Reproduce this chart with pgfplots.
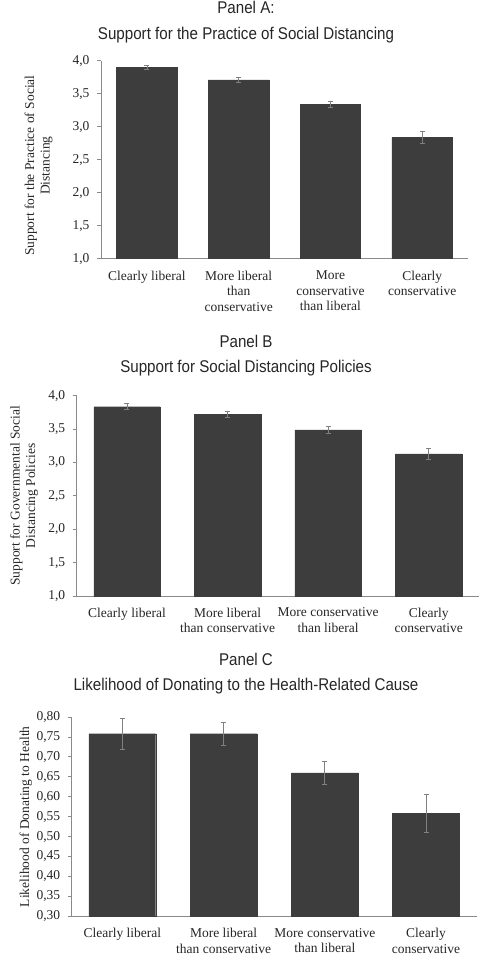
\documentclass[border=0pt]{standalone}
\usepackage{fontspec}
\setmainfont{Liberation Serif}
\newfontfamily\titlefont{Liberation Sans}[FakeStretch=0.89]
\usepackage{pgfplots}
\pgfplotsset{compat=1.18}
\definecolor{barc}{HTML}{3D3D3D}
\definecolor{axc}{HTML}{8A8A8A}
\definecolor{errc}{HTML}{808080}
\definecolor{txt}{HTML}{262626}
\newcommand\tfont{\fontsize{13.5}{15.5}\selectfont}
\pgfplotsset{
  panel/.style={
    scale only axis,
    axis lines*=left,
    axis line style={axc, line width=0.8pt},
    ybar, bar width=0.66,
    xmin=-0.5, xmax=3.5,
    xtick={0,1,2,3},
    x tick style={draw=none},
    y tick style={axc, line width=0.8pt},
    tick align=outside, major tick length=4pt,
    xticklabel style={align=center, font=\tfont, text=txt, yshift=-4.5pt},
    yticklabel style={font=\tfont, text=txt, xshift=-4pt},
    ylabel style={anchor=center, align=center, font=\tfont, text=txt},
    /pgf/number format/assume math mode=true,
    /pgf/number format/use comma,
    /pgf/number format/fixed,
    /pgf/number format/fixed zerofill,
  },
  bars/.style={fill=barc, draw=barc,
    error bars/.cd, y dir=both, y explicit,
    error bar style={color=errc, line width=0.7pt},
    error mark options={rotate=90, mark size=2.5pt, color=errc, line width=0.7pt}},
}
\begin{document}
\begin{tikzpicture}
\useasboundingbox (0,0) rectangle (487pt,-957pt);
% Panel A
\node[font=\titlefont\fontsize{17}{20}\selectfont, text=txt] at (246pt,-7pt) {Panel A:};
\node[font=\titlefont\fontsize{17}{20}\selectfont, text=txt] at (246pt,-35pt) {Support for the Practice of Social Distancing};
\begin{axis}[panel,
  at={(101pt,-60.7pt)}, anchor=north west,
  width=367pt, height=198pt,
  ymin=1, ymax=4, ytick={1,1.5,...,4},
  /pgf/number format/precision=1,
  xticklabels={Clearly liberal, {More liberal\\than\\conservative}, {More\\conservative\\than liberal}, {Clearly\\conservative}},
  ylabel={Support for the Practice of Social\\Distancing},
  ylabel style={at={(axis description cs:-0.17,0.47)}},
]
\addplot[bars] coordinates {
 (0,3.90) +- (0,0.025)
 (1,3.71) +- (0,0.04)
 (2,3.34) +- (0,0.05)
 (3,2.84) +- (0,0.095)
};
\end{axis}
% Panel B
\node[font=\titlefont\fontsize{17}{20}\selectfont, text=txt] at (246pt,-341.7pt) {Panel B};
\node[font=\titlefont\fontsize{17}{20}\selectfont, text=txt] at (246pt,-368pt) {Support for Social Distancing Policies};
\begin{axis}[panel,
  at={(76.7pt,-395.7pt)}, anchor=north west,
  width=402.3pt, height=200.3pt,
  ymin=1, ymax=4, ytick={1,1.5,...,4},
  /pgf/number format/precision=1,
  xticklabels={Clearly liberal, {More liberal\\than conservative}, {More conservative\\than liberal}, {Clearly\\conservative}},
  ylabel={Support for Governmental Social\\Distancing Policies},
  ylabel style={at={(axis description cs:-0.1305,0.5)}},
]
\addplot[bars] coordinates {
 (0,3.835) +- (0,0.045)
 (1,3.72) +- (0,0.04)
 (2,3.49) +- (0,0.05)
 (3,3.13) +- (0,0.08)
};
\end{axis}
% Panel C
\node[font=\titlefont\fontsize{17}{20}\selectfont, text=txt] at (246pt,-659pt) {Panel C};
\node[font=\titlefont\fontsize{17}{20}\selectfont, text=txt] at (246pt,-685.7pt) {Likelihood of Donating to the Health-Related Cause};
\begin{axis}[panel,
  at={(71.7pt,-717pt)}, anchor=north west,
  width=405pt, height=199.3pt,
  ymin=0.3, ymax=0.8, ytick={0.3,0.35,...,0.81},
  /pgf/number format/precision=2,
  xticklabels={Clearly liberal, {More liberal\\than conservative}, {More conservative\\than liberal}, {Clearly\\conservative}},
  ylabel={Likelihood of Donating to Health},
  ylabel style={at={(axis description cs:-0.113,0.5)}},
]
\addplot[bars] coordinates {
 (0,0.758) +- (0,0.038)
 (1,0.758) +- (0,0.029)
 (2,0.66) +- (0,0.03)
 (3,0.559) +- (0,0.048)
};
\end{axis}
\end{tikzpicture}
\end{document}
